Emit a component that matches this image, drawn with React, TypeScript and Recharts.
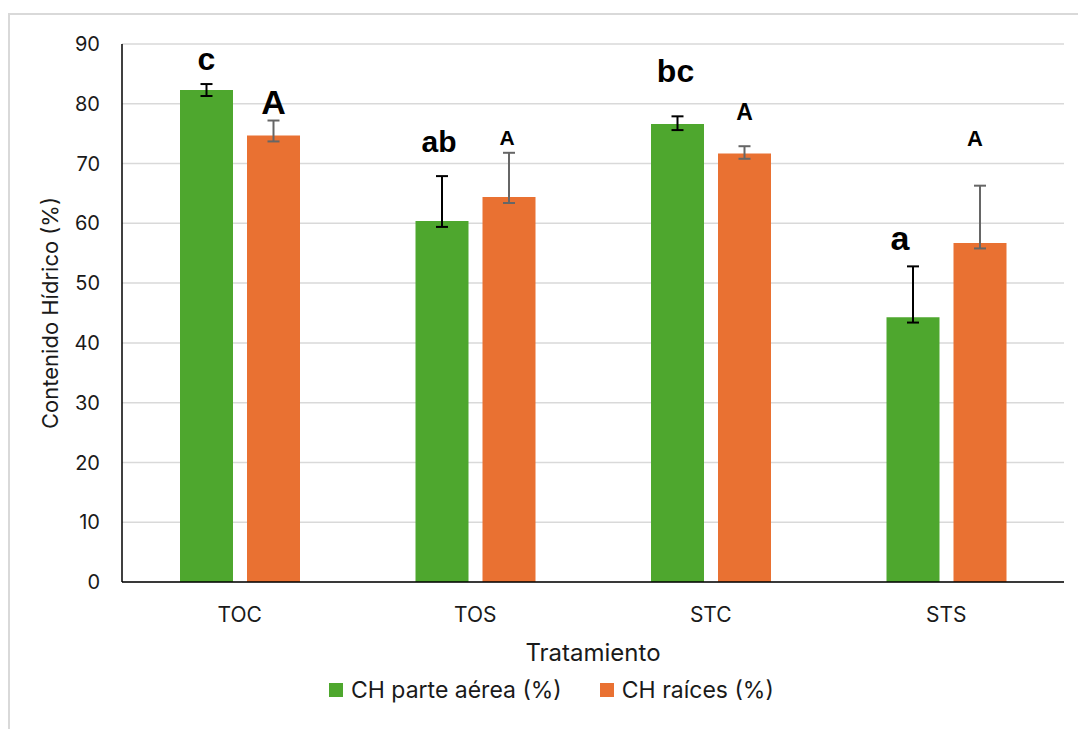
import React from "react";
import { BarChart, Bar, XAxis, YAxis, CartesianGrid, ErrorBar, LabelList, Legend } from "recharts";

const categories = ["TOC", "TOS", "STC", "STS"];
const aerea = [82.3, 60.4, 76.6, 44.3];
const raices = [74.7, 64.4, 71.7, 56.7];
// [below, above]
const aereaErr = [[1.0, 1.0], [1.0, 7.5], [1.0, 1.3], [0.9, 8.5]];
const raicesErr = [[1.0, 2.5], [1.0, 7.4], [0.9, 1.2], [0.9, 9.6]];
const aereaLetters = ["c", "ab", "bc", "a"];
const raicesLetters = ["A", "A", "A", "A"];
// height (in % units) where each letter sits
const aereaLetterAt = [87.5, 73.7, 85.4, 57.5];
const raicesLetterAt = [80.3, 74.4, 78.7, 74.2];
const yTicks = [0, 10, 20, 30, 40, 50, 60, 70, 80, 90];

const GREEN = "#4ea72e";
const ORANGE = "#e97132";
const FONT = "Inter, 'Open Sans', sans-serif";
const LETTER_FONT = "'Liberation Sans', Arial, sans-serif";

// letter styling (not data)
const aereaLetterStyle = [{ size: 32, dx: 0 }, { size: 30, dx: -3 }, { size: 32, dx: -2 }, { size: 34, dx: -13 }];
const raicesLetterStyle = [{ size: 34, dx: 0 }, { size: 21, dx: -2 }, { size: 23, dx: 0 }, { size: 22, dx: -5 }];

const data = categories.map((c, i) => ({
  name: c,
  aerea: aerea[i],
  raices: raices[i],
  aereaErr: aereaErr[i],
  raicesErr: raicesErr[i],
  aereaLetter: aereaLetters[i],
  raicesLetter: raicesLetters[i],
}));

function letterLabel(values: number[], pos: number[], styles: { size: number; dx: number }[]) {
  return (props: any) => {
    const { x, y, width, height, value, index } = props;
    const bottom = y + height;
    const ppu = height / values[index];
    const cy = bottom - pos[index] * ppu;
    const st = styles[index];
    return (
      <text x={x + width / 2 + st.dx} y={cy} textAnchor="middle" dominantBaseline="central"
        fontFamily={LETTER_FONT} fontWeight="bold" fontSize={st.size} fill="#000">
        {value}
      </text>
    );
  };
}

function YLabel(props: any) {
  const vb = props.viewBox;
  const cx = 50;
  const cy = vb.y + vb.height / 2;
  return (
    <text x={cx} y={cy} transform={`rotate(-90 ${cx} ${cy})`} textAnchor="middle" dominantBaseline="central"
      fontFamily={FONT} fontSize={22} fill="#1a1a1a">
      Contenido Hídrico (%)
    </text>
  );
}

function XLabel(props: any) {
  const vb = props.viewBox;
  const cx = vb.x + vb.width / 2;
  return (
    <text x={cx} y={652} textAnchor="middle" dominantBaseline="central" fontFamily={FONT} fontSize={24} fill="#1a1a1a">
      Tratamiento
    </text>
  );
}

function LegendContent() {
  const items = [
    { label: "CH parte aérea (%)", color: GREEN },
    { label: "CH raíces (%)", color: ORANGE },
  ];
  return (
    <div style={{ display: "flex", justifyContent: "flex-start", paddingLeft: 329, gap: 38, fontFamily: FONT, fontSize: 23, color: "#1a1a1a" }}>
      {items.map(it => (
        <div key={it.label} style={{ display: "flex", alignItems: "center" }}>
          <span style={{ width: 14, height: 14, background: it.color, marginRight: 8, display: "inline-block" }} />
          {it.label}
        </div>
      ))}
    </div>
  );
}

export default function App() {
  return (
    <div style={{ position: "absolute", left: 0, top: 0, width: 1078, height: 729, background: "#fff", overflow: "hidden" }}>
      <div style={{ position: "absolute", left: 8, top: 13, width: 1100, height: 760, borderLeft: "2px solid #d9d9d9", borderTop: "2px solid #d9d9d9" }} />
      <div style={{ position: "absolute", left: 0, top: 0 }}>
        <BarChart width={1078} height={729} data={data} margin={{ top: 44, right: 14, left: 0, bottom: 0 }} barSize={53} barGap={14}>
          <CartesianGrid vertical={false} stroke="#d9d9d9" strokeWidth={1.5} />
          <XAxis dataKey="name" height={147} axisLine={{ stroke: "#000", strokeWidth: 1.5 }} tickLine={false} tickMargin={19}
            tick={{ fontFamily: FONT, fontSize: 21, fill: "#1a1a1a" }} label={<XLabel />} />
          <YAxis width={122} domain={[0, 90]} ticks={yTicks} interval={0} axisLine={{ stroke: "#000", strokeWidth: 1.5 }} tickLine={false}
            tickMargin={16} tick={{ fontFamily: FONT, fontSize: 20, fill: "#1a1a1a" }} label={<YLabel />} />
          <Legend layout="horizontal" verticalAlign="middle" align="center" content={<LegendContent />}
            wrapperStyle={{ position: "absolute", top: 676, left: 0, width: 1078 }} />
          <Bar dataKey="aerea" name="CH parte aérea (%)" fill={GREEN} isAnimationActive={false}>
            <ErrorBar dataKey="aereaErr" width={6} stroke="#000" strokeWidth={2} direction="y" isAnimationActive={false} />
            <LabelList dataKey="aereaLetter" content={letterLabel(aerea, aereaLetterAt, aereaLetterStyle)} />
          </Bar>
          <Bar dataKey="raices" name="CH raíces (%)" fill={ORANGE} isAnimationActive={false}>
            <ErrorBar dataKey="raicesErr" width={6} stroke="#666" strokeWidth={2} direction="y" isAnimationActive={false} />
            <LabelList dataKey="raicesLetter" content={letterLabel(raices, raicesLetterAt, raicesLetterStyle)} />
          </Bar>
        </BarChart>
      </div>
    </div>
  );
}
